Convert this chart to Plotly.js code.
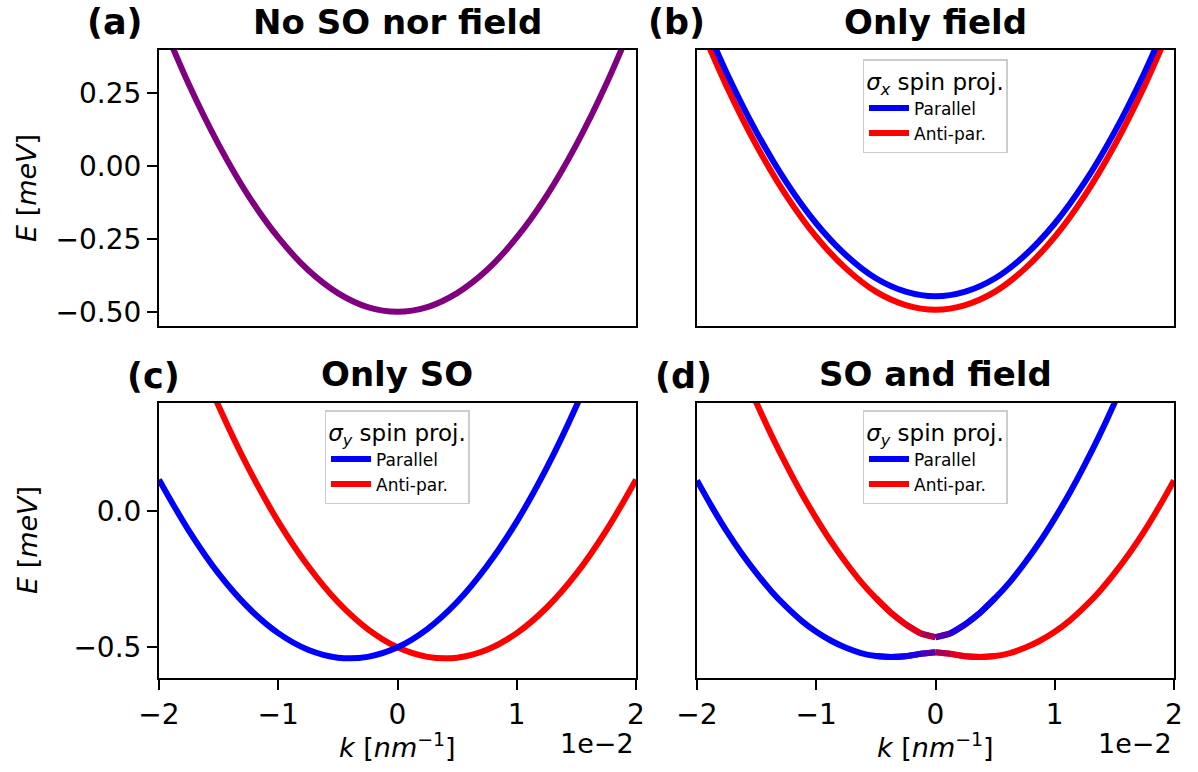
<!DOCTYPE html>
<html>
<head>
<meta charset="utf-8">
<script src="https://cdn.plot.ly/plotly-3.0.1.min.js"></script>
<style>html,body{margin:0;padding:0;background:#fff}</style>
</head>
<body>
<div id="chart" style="width:1198px;height:772px"></div>
<script>
// ---- data (k in units of 1e-2 nm^-1, E in meV) ----
const k = [-2,-1.75,-1.5,-1.25,-1,-0.75,-0.5,-0.25,0,0.25,0.5,0.75,1,1.25,1.5,1.75,2];

// (a) No SO nor field
const aBand = [0.52,0.281,0.074,-0.102,-0.245,-0.357,-0.436,-0.484,-0.5,-0.484,-0.436,-0.357,-0.245,-0.102,0.074,0.281,0.52];

// (b) Only field
const bParallel = [0.553,0.319,0.116,-0.056,-0.197,-0.306,-0.385,-0.431,-0.447,-0.431,-0.385,-0.306,-0.197,-0.056,0.116,0.319,0.553];
const bAnti = [0.507,0.273,0.070,-0.102,-0.243,-0.352,-0.431,-0.477,-0.493,-0.477,-0.431,-0.352,-0.243,-0.102,0.070,0.273,0.507];

// (c) Only SO
const cParallel = [0.115,-0.072,-0.230,-0.355,-0.448,-0.509,-0.538,-0.535,-0.5,-0.433,-0.334,-0.202,-0.039,0.157,0.385,0.644,0.936];
const cAnti = [0.936,0.644,0.385,0.157,-0.039,-0.202,-0.334,-0.433,-0.5,-0.535,-0.538,-0.509,-0.448,-0.355,-0.230,-0.072,0.115];

// (d) SO and field (finer k grid around the anticrossing)
const kD = [-2,-1.875,-1.75,-1.625,-1.5,-1.375,-1.25,-1.125,-1,-0.875,-0.75,-0.625,-0.5,-0.375,-0.25,-0.125,0,0.125,0.25,0.375,0.5,0.625,0.75,0.875,1,1.125,1.25,1.375,1.5,1.625,1.75,1.875,2];
const dLower = [0.112,0.015,-0.075,-0.156,-0.229,-0.295,-0.352,-0.402,-0.443,-0.476,-0.502,-0.521,-0.532,-0.536,-0.533,-0.524,-0.518,-0.524,-0.533,-0.536,-0.532,-0.521,-0.502,-0.476,-0.443,-0.402,-0.352,-0.295,-0.229,-0.156,-0.075,0.015,0.112];
const dUpper = [0.946,0.796,0.655,0.521,0.395,0.277,0.168,0.066,-0.027,-0.113,-0.190,-0.260,-0.320,-0.373,-0.416,-0.449,-0.463,-0.449,-0.416,-0.373,-0.320,-0.260,-0.190,-0.113,-0.027,0.066,0.168,0.277,0.395,0.521,0.655,0.796,0.946];
// sigma_y spin projection (+1 parallel / -1 anti-parallel)
const dLowerSpin = [1,1,1,1,1,1,1,1,1,1,1,1,1,0.95,0.88,0.68,0,-0.68,-0.88,-0.95,-1,-1,-1,-1,-1,-1,-1,-1,-1,-1,-1,-1,-1];
const dUpperSpin = [-1,-1,-1,-1,-1,-1,-1,-1,-1,-1,-1,-1,-1,-0.95,-0.88,-0.68,0,0.68,0.88,0.95,1,1,1,1,1,1,1,1,1,1,1,1,1];

const xTicks = [-2,-1,0,1,2];
const xTickText = ['−2','−1','0','1','2'];
const yTicksTop = [0.25,0,-0.25,-0.5];
const yTickTextTop = ['0.25','0.00','−0.25','−0.50'];
const yTicksBot = [0,-0.5];
const yTickTextBot = ['0.0','−0.5'];
const titles = ['No SO nor field','Only field','Only SO','SO and field'];
const panelLabels = ['(a)','(b)','(c)','(d)'];
const legendTitles = ['<i>σ</i><sub><i>x</i></sub> spin proj.','<i>σ</i><sub><i>y</i></sub> spin proj.','<i>σ</i><sub><i>y</i></sub> spin proj.'];
const seriesNames = ['Parallel','Anti-par.'];

// ---- styling ----
const W = 1198, H = 772;
const FONT = 'DejaVu Sans';
const BLUE = '#0000ff', RED = '#ff0000', PURPLE = '#800080';
const LW = 6;
const px = x => x / W;
const py = y => 1 - y / H;

function spinColor(s) {
  const t = (s + 1) / 2; // 1 -> blue, 0 -> red
  const r = Math.round(255 * (1 - t)), b = Math.round(255 * t);
  return 'rgb(' + r + ',0,' + b + ')';
}

const traces = [];
traces.push({x: k, y: aBand, xaxis: 'x', yaxis: 'y', mode: 'lines', line: {color: PURPLE, width: LW, shape: 'spline'}, showlegend: false});

traces.push({x: k, y: bAnti, xaxis: 'x2', yaxis: 'y2', mode: 'lines', name: seriesNames[1], legend: 'legend', legendrank: 2, line: {color: RED, width: LW, shape: 'spline'}});
traces.push({x: k, y: bParallel, xaxis: 'x2', yaxis: 'y2', mode: 'lines', name: seriesNames[0], legend: 'legend', legendrank: 1, line: {color: BLUE, width: LW, shape: 'spline'}});

traces.push({x: k, y: cAnti, xaxis: 'x3', yaxis: 'y3', mode: 'lines', name: seriesNames[1], legend: 'legend2', legendrank: 2, line: {color: RED, width: LW, shape: 'spline'}});
traces.push({x: k, y: cParallel, xaxis: 'x3', yaxis: 'y3', mode: 'lines', name: seriesNames[0], legend: 'legend2', legendrank: 1, line: {color: BLUE, width: LW, shape: 'spline'}});

// (d): smooth base halves in the pure colours, then colour-blended pieces near the anticrossing
function addColoredBand(ys, spins) {
  const mid = kD.indexOf(0);
  const halves = [[0, mid], [mid, kD.length - 1]];
  halves.forEach(([a, b]) => {
    const xs = kD.slice(a, b + 1), yv = ys.slice(a, b + 1);
    const s = spins[a === 0 ? 0 : kD.length - 1];
    traces.push({x: xs, y: yv, xaxis: 'x4', yaxis: 'y4', mode: 'lines', showlegend: false, hoverinfo: 'skip', line: {color: spinColor(s), width: LW, shape: 'spline'}});
  });
  for (let i = 0; i < kD.length - 1; i++) {
    const sAvg = (spins[i] + spins[i + 1]) / 2;
    if (Math.abs(sAvg) >= 0.999) continue;
    traces.push({x: [kD[i], kD[i + 1]], y: [ys[i], ys[i + 1]], xaxis: 'x4', yaxis: 'y4', mode: 'lines', showlegend: false, hoverinfo: 'skip', line: {color: spinColor(sAvg), width: LW}});
  }
}
addColoredBand(dUpper, dUpperSpin);
addColoredBand(dLower, dLowerSpin);
traces.push({x: [null], y: [null], xaxis: 'x4', yaxis: 'y4', mode: 'lines', name: seriesNames[0], legend: 'legend3', legendrank: 1, line: {color: BLUE, width: LW}});
traces.push({x: [null], y: [null], xaxis: 'x4', yaxis: 'y4', mode: 'lines', name: seriesNames[1], legend: 'legend3', legendrank: 2, line: {color: RED, width: LW}});

const domL = [px(159), px(636)], domR = [px(697), px(1174)];
const domT = [py(326), py(50)], domB = [py(678), py(402.7)];
const rangeTop = [-0.549, 0.3987], rangeBot = [-0.6126, 0.397];

const baseAx = {showline: true, mirror: true, linecolor: '#000', linewidth: 2, showgrid: false, zeroline: false,
  tickfont: {family: FONT, size: 28, color: '#000'}, tickcolor: '#000', tickwidth: 2, ticklen: 10, fixedrange: true};
const xBottom = Object.assign({}, baseAx, {range: [-2, 2], tickmode: 'array', tickvals: xTicks, ticktext: xTickText, ticks: 'outside'});
const xTop = Object.assign({}, baseAx, {range: [-2, 2], showticklabels: false, ticks: ''});

function legendCfg(i, cx, top) {
  return {x: px(cx), y: py(top), xanchor: 'center', yanchor: 'top', bgcolor: 'rgba(255,255,255,0.9)', bordercolor: '#cccccc', borderwidth: 1.5,
    font: {family: FONT, size: 17, color: '#000'}, title: {text: legendTitles[i], side: 'top center', font: {family: FONT, size: 23, color: '#000'}},
    itemwidth: 40, tracegroupgap: 0, traceorder: 'normal'};
}

const ann = [];
function txt(text, x, y, size, bold, opts) {
  ann.push(Object.assign({text: bold ? '<b>' + text + '</b>' : text, x: px(x), y: py(y), xref: 'paper', yref: 'paper', showarrow: false,
    xanchor: 'center', yanchor: 'middle', font: {family: FONT, size: size, color: '#000'}}, opts || {}));
}
txt(panelLabels[0], 115, 22, 35, true);
txt(panelLabels[1], 676, 22, 35, true);
txt(panelLabels[2], 153, 376, 35, true);
txt(panelLabels[3], 683, 376, 35, true);
txt(titles[0], 397, 22, 34, true);
txt(titles[1], 935, 22, 34, true);
txt(titles[2], 397, 374, 34, true);
txt(titles[3], 935, 374, 34, true);
txt('<i>E</i> [<i>meV</i>]', 27, 188, 27, false, {textangle: -90});
txt('<i>E</i> [<i>meV</i>]', 27, 540, 27, false, {textangle: -90});
txt('<i>k</i> [<i>nm</i><sup>−1</sup>]', 397, 745, 27, false);
txt('<i>k</i> [<i>nm</i><sup>−1</sup>]', 935, 745, 27, false);
txt('1e−2', 636, 743, 27, false, {xanchor: 'right'});
txt('1e−2', 1174, 743, 27, false, {xanchor: 'right'});

const layout = {
  width: W, height: H, margin: {l: 0, r: 0, t: 0, b: 0}, paper_bgcolor: '#fff', plot_bgcolor: '#fff',
  font: {family: FONT, color: '#000'}, showlegend: true,
  xaxis: Object.assign({}, xTop, {domain: domL, anchor: 'y'}),
  yaxis: Object.assign({}, baseAx, {domain: domT, anchor: 'x', range: rangeTop, tickmode: 'array', tickvals: yTicksTop, ticktext: yTickTextTop, ticks: 'outside'}),
  xaxis2: Object.assign({}, xTop, {domain: domR, anchor: 'y2'}),
  yaxis2: Object.assign({}, baseAx, {domain: domT, anchor: 'x2', range: rangeTop, showticklabels: false, ticks: ''}),
  xaxis3: Object.assign({}, xBottom, {domain: domL, anchor: 'y3'}),
  yaxis3: Object.assign({}, baseAx, {domain: domB, anchor: 'x3', range: rangeBot, tickmode: 'array', tickvals: yTicksBot, ticktext: yTickTextBot, ticks: 'outside'}),
  xaxis4: Object.assign({}, xBottom, {domain: domR, anchor: 'y4'}),
  yaxis4: Object.assign({}, baseAx, {domain: domB, anchor: 'x4', range: rangeBot, showticklabels: false, ticks: ''}),
  legend: legendCfg(0, 935, 59),
  legend2: legendCfg(1, 397, 410),
  legend3: legendCfg(2, 935, 410),
  annotations: ann
};

Plotly.newPlot('chart', traces, layout, {displayModeBar: false, staticPlot: true});
</script>
</body>
</html>
